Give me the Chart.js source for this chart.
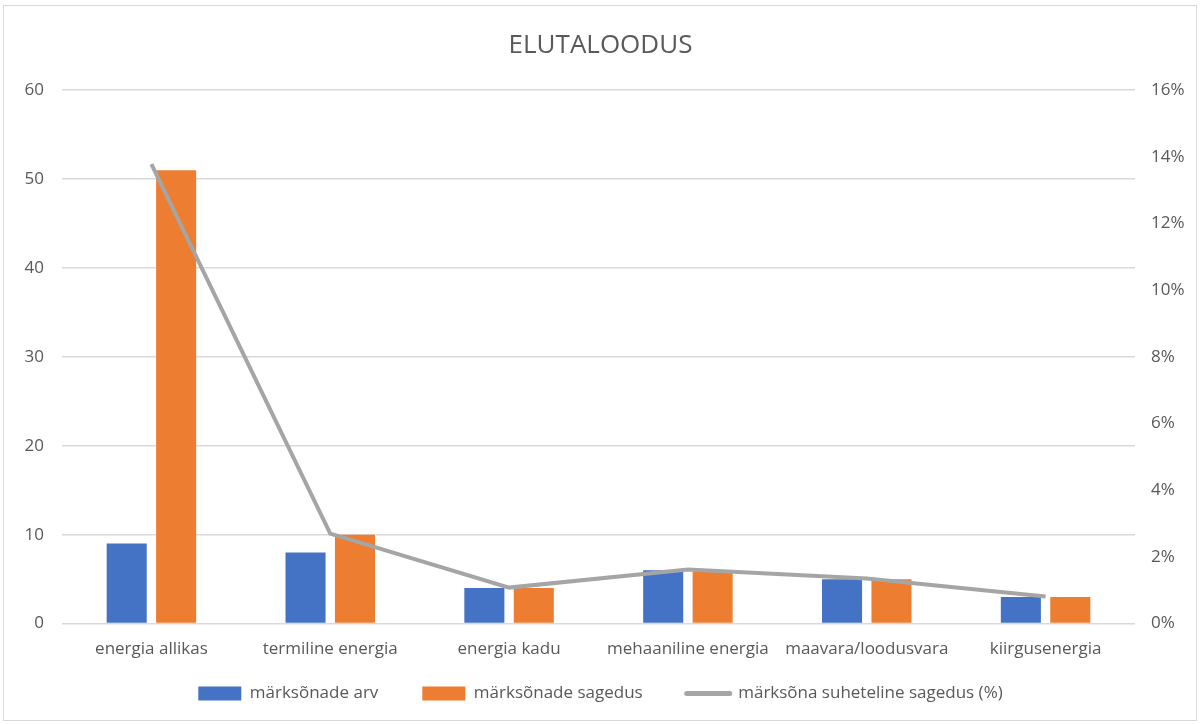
<!DOCTYPE html>
<html>
<head>
<meta charset="utf-8">
<script src="https://cdn.jsdelivr.net/npm/chart.js@4/dist/chart.umd.min.js"></script>
<style>
  html, body { margin: 0; padding: 0; background: #fff; }
  .frame { position: absolute; left: 3px; top: 5px; width: 1194px; height: 716px; border: 1px solid #d9d9d9; box-sizing: border-box; }
  .wrap { position: absolute; left: 0; top: 0; width: 1201px; height: 724px; }
</style>
</head>
<body>
<div class="frame"></div>
<div class="wrap"><canvas id="combo" width="1201" height="724"></canvas></div>
<script>
// ----------------------------------------------------
const categories = [ 'energia allikas', 'termiline energia', 'energia kadu', 'mehaaniline energia', 'maavara/loodusvara', 'kiirgusenergia' ];
const arv = [ 9, 8, 4, 6, 5, 3 ];
const sagedus = [ 51, 10, 4, 6, 5, 3 ];
const suhteline = [ 13.78, 2.70, 1.08, 1.62, 1.35, 0.81 ];
const leftTicks = [ 0, 10, 20, 30, 40, 50, 60 ];
const rightTicks = [ 0, 2, 4, 6, 8, 10, 12, 14, 16 ];
// ----------------------------------------------------
const grey = '#595959';
const font = { family: '"Open Sans", "Noto Sans", sans-serif', size: 17 };
Chart.defaults.color = grey;
Chart.defaults.font = font;
Chart.defaults.animation = false;
//
const canvas = document.getElementById( 'combo' );
const defaultLabels = Chart.defaults.plugins.legend.labels.generateLabels;
//
// legend padding is used both between items and above them; take back the vertical part
const legendGap = {
    id: 'legendGap',
    beforeUpdate( chart ) {
        const leg = chart.legend;
        if ( !leg || leg._gapPatched ) return;
        leg._gapPatched = true;
        const cut = 25;
        const fit = leg.fit;
        const draw = leg.draw;
        leg.fit = function () { fit.call( this ); this.height -= cut; };
        leg.draw = function () { this.top -= cut; draw.call( this ); this.top += cut; };
    }
};
//
new Chart( canvas, {
    type: 'bar',
    data: {
        labels: categories,
        datasets: [
            {
                label: 'märksõnade arv',
                data: arv,
                backgroundColor: '#4472c4',
                yAxisID: 'y',
                order: 2,
                categoryPercentage: 0.553,
                barPercentage: 0.81
            },
            {
                label: 'märksõnade sagedus',
                data: sagedus,
                backgroundColor: '#ed7d31',
                yAxisID: 'y',
                order: 2,
                categoryPercentage: 0.553,
                barPercentage: 0.81
            },
            {
                type: 'line',
                label: 'märksõna suheteline sagedus (%)',
                data: suhteline,
                borderColor: '#a5a5a5',
                backgroundColor: '#a5a5a5',
                borderWidth: 4,
                pointRadius: 0,
                tension: 0,
                yAxisID: 'y1',
                order: 1
            }
        ]
    },
    plugins: [ legendGap ],
    options: {
        responsive: false,
        maintainAspectRatio: false,
        layout: { padding: { top: 12, bottom: 12, left: 0, right: 0 } },
        plugins: {
            title: {
                display: true,
                text: 'ELUTALOODUS',
                color: grey,
                font: { family: font.family, size: 26, weight: 'normal' },
                padding: { top: 18, bottom: 29 }
            },
            legend: {
                position: 'bottom',
                labels: {
                    usePointStyle: true,
                    pointStyleWidth: 43,
                    boxHeight: 14,
                    padding: 44,
                    font: font,
                    sort: ( a, b ) => a.datasetIndex - b.datasetIndex,
                    generateLabels: ( chart ) => defaultLabels( chart ).map( item => {
                        const isLine = chart.data.datasets[ item.datasetIndex ].type === 'line';
                        item.pointStyle = isLine ? 'line' : 'rect';
                        item.lineWidth = isLine ? 5 : 0;
                        item.lineCap = 'round';
                        return item;
                    })
                }
            },
            tooltip: { enabled: false }
        },
        scales: {
            x: {
                grid: { display: false },
                border: { display: false },
                ticks: { padding: 7, font: font, maxRotation: 0 }
            },
            y: {
                position: 'left',
                min: 0,
                max: 60,
                afterBuildTicks: ( s ) => { s.ticks = leftTicks.map( v => ({ value: v }) ); },
                afterFit: ( s ) => { s.width = 62; },
                grid: { color: '#d9d9d9', drawTicks: false, lineWidth: 1.5 },
                border: { display: false },
                ticks: { padding: 18, font: font }
            },
            y1: {
                position: 'right',
                min: 0,
                max: 16,
                afterBuildTicks: ( s ) => { s.ticks = rightTicks.map( v => ({ value: v }) ); },
                afterFit: ( s ) => { s.width = 66; },
                grid: { display: false },
                border: { display: false },
                ticks: { padding: 8, font: font, callback: ( v ) => v + '%' }
            }
        }
    }
});
</script>
</body>
</html>
